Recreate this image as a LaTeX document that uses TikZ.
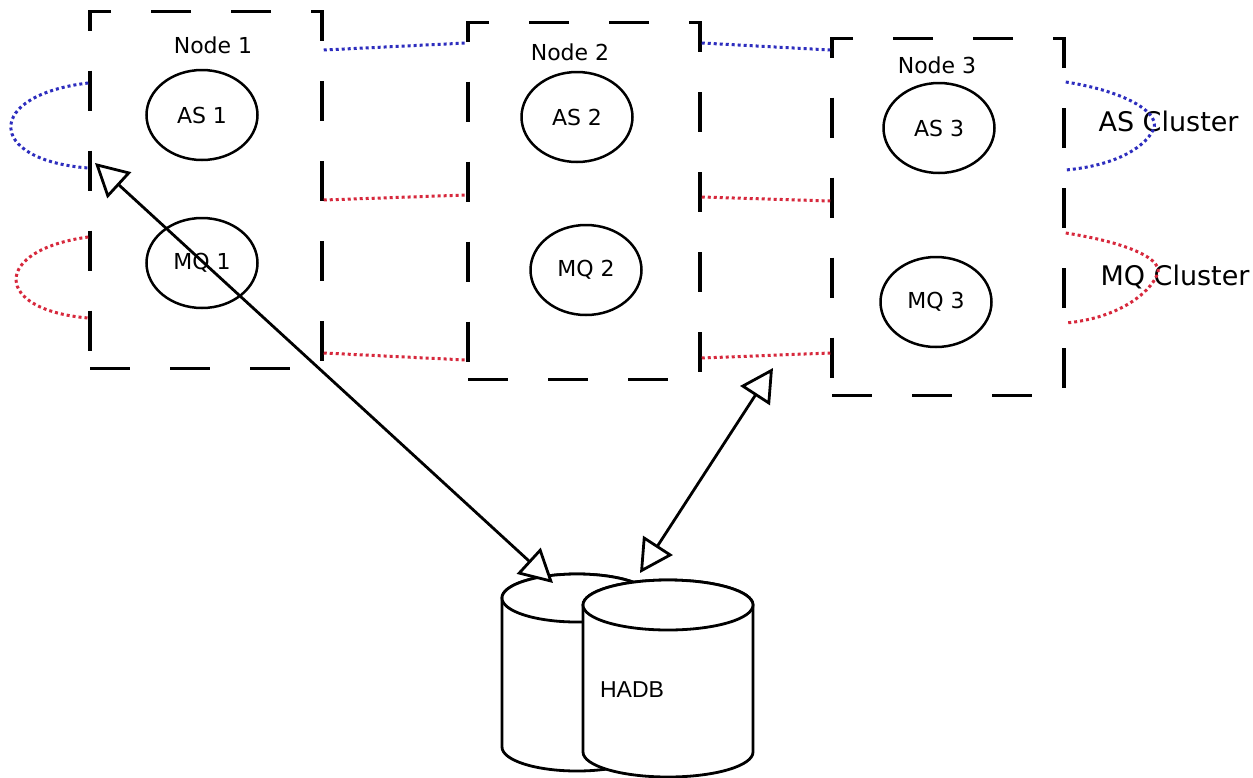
\documentclass[tikz,border=0pt]{standalone}
\usepackage{fontspec}
\setmainfont{DejaVu Sans}
\newfontfamily\dbfont{Liberation Sans}
\usetikzlibrary{positioning,shapes,arrows.meta}
\definecolor{asblue}{RGB}{45,45,190}
\definecolor{mqred}{RGB}{215,40,60}
\tikzset{
    server/.style={rectangle, draw=black, line width=3.5pt, dash pattern=on 40pt off 40pt, minimum width=232pt, minimum height=357pt, inner sep=0pt},
    inst/.style={ellipse, draw=black, line width=2.5pt, minimum width=111pt, minimum height=90pt, inner sep=0pt, font=\fontsize{22}{26}\selectfont},
    title/.style={font=\fontsize{22}{26}\selectfont},
    clabel/.style={anchor=west, font=\fontsize{27}{32}\selectfont},
    drum/.style={draw=black, line width=2.8pt, fill=white},
    aslink/.style={draw=asblue, line width=3pt, dash pattern=on 3pt off 3pt},
    mqlink/.style={draw=mqred, line width=3pt, dash pattern=on 3pt off 3pt},
    arr/.style={line width=2.8pt, {Triangle[length=33pt,width=35pt,fill=white]}-{Triangle[length=33pt,width=35pt,fill=white]}}
    }

\begin{document}
\begin{tikzpicture}[x=1pt, y=-1pt]
    \fill[white] (0,0) rectangle (1253,777);
    \useasboundingbox (0,0) rectangle (1253,777);

    \node[server] (node1) at (206,190) {};
    \node[server] (node2) at (584,201) {};
    \node[server] (node3) at (948,217) {};
    \node[title] (t1) at (213,45) {Node 1};
    \node[title] (t2) at (570,52) {Node 2};
    \node[title] (t3) at (937,65) {Node 3};

    \node[inst] (as1) at (202,115) {AS 1};
    \node[inst] (mq1) at (202,263) {MQ 1};
    \node[inst] (as2) at (577,117) {AS 2};
    \node[inst] (mq2) at (586,270) {MQ 2};
    \node[inst] (as3) at (939,128) {AS 3};
    \node[inst] (mq3) at (936,302) {MQ 3};

    % cluster links
    \draw[aslink] (node1.east |- 0,50) -- (node2.west |- 0,43);
    \draw[mqlink] (node1.east |- 0,200) -- (node2.west |- 0,195);
    \draw[mqlink] (node1.east |- 0,353) -- (node2.west |- 0,360);
    \draw[aslink] (node2.east |- 0,43) -- (node3.west |- 0,50);
    \draw[mqlink] (node2.east |- 0,197) -- (node3.west |- 0,201);
    \draw[mqlink] (node2.east |- 0,358) -- (node3.west |- 0,353);
    \draw[aslink] (node1.west |- 0,83) .. controls (-15,95) and (-15,160) .. (node1.west |- 0,168);
    \draw[mqlink] (node1.west |- 0,237) .. controls (-8,250) and (-8,310) .. (node1.west |- 0,318);

    \node[clabel] (ascl) at (1095,121) {AS Cluster};
    \node[clabel] (mqcl) at (1097,277) {MQ Cluster};
    \draw[aslink] (node3.east |- 0,82) .. controls (1130,92) and (1162,115) .. (1153,130) .. controls (1146,145) and (1120,165) .. (node3.east |- 0,170);
    \draw[mqlink] (node3.east |- 0,233) .. controls (1130,243) and (1165,260) .. (1157,275) .. controls (1150,292) and (1120,318) .. (node3.east |- 0,323);

    % database
    \filldraw[drum] (502,598) -- (502,747) arc[start angle=180, end angle=0, x radius=75, y radius=24]
        -- (652,598) arc[start angle=0, end angle=-180, x radius=75, y radius=24] -- cycle;
    \draw[drum] (577,598) ellipse[x radius=75, y radius=24];
    \filldraw[drum] (583,605) -- (583,752) arc[start angle=180, end angle=0, x radius=85, y radius=25]
        -- (753,605) arc[start angle=0, end angle=-180, x radius=85, y radius=25] -- cycle;
    \draw[drum] (668,605) ellipse[x radius=85, y radius=25];
    \node[font=\dbfont\fontsize{23}{28}\selectfont] (hadb) at (632,690) {HADB};

    \coordinate (n1tip) at (95,163);
    \coordinate (dbtip1) at (553,583);
    \coordinate (n3tip) at (773,368);
    \coordinate (dbtip2) at (640,573);
    \draw[arr] (n1tip) -- (dbtip1);
    \draw[arr] (dbtip2) -- (n3tip);
\end{tikzpicture}
\end{document}
